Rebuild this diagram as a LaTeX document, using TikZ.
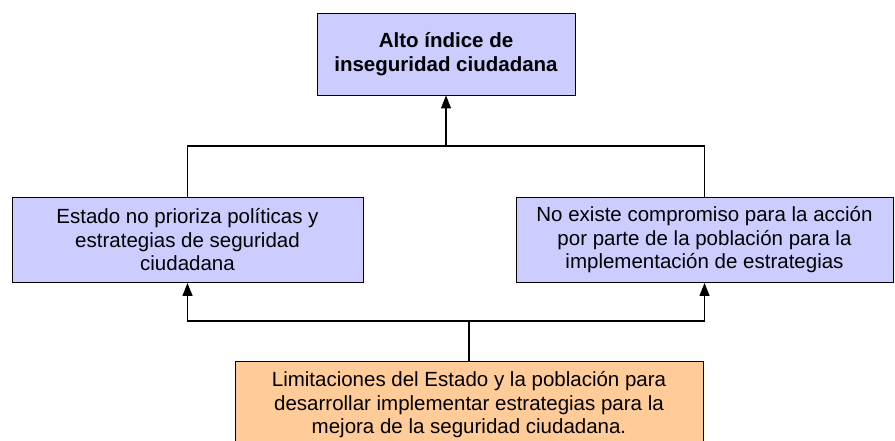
\documentclass[tikz,border=0pt]{standalone}
\usepackage{fontspec}
\setmainfont{Liberation Sans}
\usetikzlibrary{arrows.meta}
\definecolor{boxlila}{RGB}{204,204,255}
\definecolor{boxnaranja}{RGB}{255,204,153}
\tikzset{
  caja/.style={draw=black, line width=0.9pt, align=center, inner sep=0pt,
    font=\fontsize{20.5}{23.5}\selectfont},
  flecha/.style={line width=1.3pt, -{Triangle[length=13pt,width=10pt]}},
  linea/.style={line width=1.2pt},
}

\begin{document}
\begin{tikzpicture}[x=1pt,y=-1pt]
\useasboundingbox (0,0) rectangle (895,441);
% cajas
\node[caja,fill=boxlila,minimum width=258pt,minimum height=82pt,
  font=\fontsize{20.5}{23.5}\selectfont\bfseries] (alto) at (446,54)
  {Alto índice de\\inseguridad ciudadana};
\node[caja,fill=boxlila,minimum width=351pt,minimum height=85pt] (estado) at (187.5,240)
  {Estado no prioriza políticas y\\estrategias de seguridad\\ciudadana};
\node[caja,fill=boxlila,minimum width=377pt,minimum height=85pt] (noexiste) at (704.5,240)
  {No existe compromiso para la acción\\por parte de la población para la\\implementación de estrategias};
\node[caja,fill=boxnaranja,minimum width=468pt,minimum height=88pt] (limit) at (469,405)
  {Limitaciones del Estado y la población para\\desarrollar implementar estrategias para la\\mejora de la seguridad ciudadana.};
\coordinate (uneArriba) at (446,146);
\coordinate (uneAbajo) at (469,321);
% conectores
\draw[linea] (estado.north) |- (uneArriba) -| (noexiste.north);
\draw[flecha] (uneArriba) -- (alto);
\draw[linea] (limit) -- (uneAbajo);
\draw[flecha] (uneAbajo) -| (estado.south);
\draw[flecha] (uneAbajo) -| (noexiste.south);
\end{tikzpicture}
\end{document}
